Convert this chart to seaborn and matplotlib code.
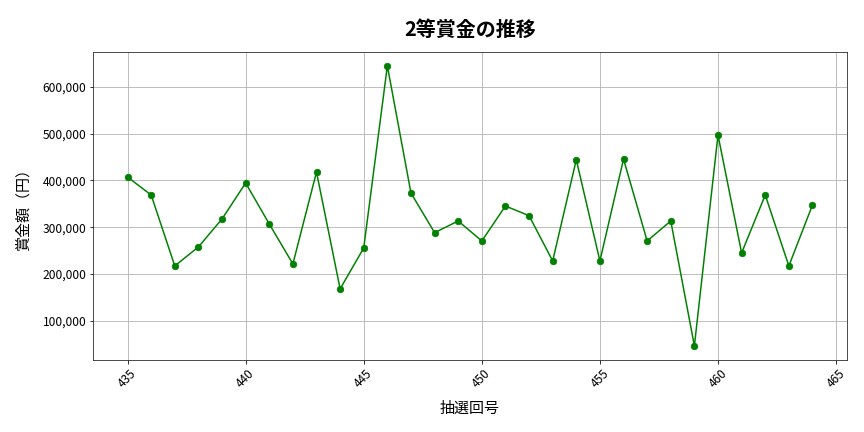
import numpy as np
import pandas as pd
import matplotlib
matplotlib.use("Agg")
import matplotlib.pyplot as plt
import matplotlib.ticker as mticker
import seaborn as sns

# 抽選回と2等賞金（円）
kaisuu = list(range(435, 465))
shoukin = [407400, 368900, 217000, 257700, 317600, 394600, 306900, 221300,
           418100, 167800, 255500, 645600, 373200, 288200, 313300, 270500,
           345400, 324600, 227700, 444400, 227700, 445900, 270500, 313300,
           45800, 497300, 244800, 368900, 217000, 347500]

df = pd.DataFrame({"回": kaisuu, "賞金": shoukin})

sns.set_style("ticks", {"text.color": "black", "axes.labelcolor": "black",
                        "xtick.color": "black", "ytick.color": "black"})
plt.rcParams['font.family'] = ['Noto Sans CJK JP', 'DejaVu Sans']

fig, ax = plt.subplots(figsize=(12, 6), dpi=72)
sns.lineplot(data=df, x="回", y="賞金", ax=ax, color="green",
             marker="o", markersize=6.5, markeredgecolor="green", linewidth=1.5)

ax.set_title("2等賞金の推移", fontsize=20, fontweight="bold", pad=16, color="black")
ax.set_xlabel("抽選回号", fontsize=15, labelpad=12)
ax.set_ylabel("賞金額（円）", fontsize=15, labelpad=12)
ax.yaxis.set_major_formatter(mticker.FuncFormatter(lambda v, p: f"{int(v):,}"))
ax.grid(True, color="#b0b0b0", linewidth=0.8)
for lbl in ax.get_xticklabels():
    lbl.set_rotation(45)
ax.tick_params(labelsize=12, colors="black")
for s in ax.spines.values():
    s.set_color("#222222")

fig.subplots_adjust(left=0.108, right=0.98, top=0.88, bottom=0.167)
fig.savefig("out.png", dpi=72)
